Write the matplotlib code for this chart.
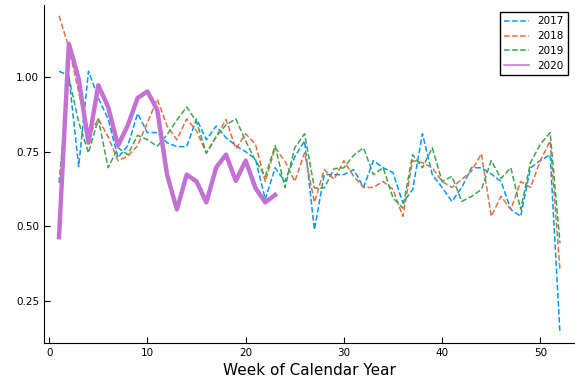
import matplotlib
matplotlib.use("Agg")
import matplotlib.pyplot as plt

weeks = list(range(1, 53))

y2017 = [1.02, 1.005, 0.70, 1.02, 0.93, 0.86, 0.73, 0.77, 0.878, 0.814,
         0.814, 0.78, 0.767, 0.767, 0.86, 0.79, 0.836, 0.797, 0.77, 0.75,
         0.725, 0.59, 0.696, 0.65, 0.733, 0.786, 0.488, 0.673, 0.673, 0.673,
         0.69, 0.63, 0.72, 0.696, 0.68, 0.578, 0.623, 0.81, 0.673, 0.63,
         0.583, 0.63, 0.696, 0.696, 0.675, 0.65, 0.556, 0.533, 0.696, 0.72,
         0.74, 0.14]
y2018 = [1.206, 1.10, 0.95, 0.80, 0.86, 0.80, 0.72, 0.735, 0.77, 0.847,
         0.926, 0.836, 0.79, 0.86, 0.82, 0.745, 0.80, 0.858, 0.76, 0.81,
         0.775, 0.65, 0.763, 0.718, 0.65, 0.746, 0.58, 0.69, 0.657, 0.72,
         0.667, 0.63, 0.63, 0.65, 0.623, 0.533, 0.72, 0.713, 0.696, 0.65,
         0.63, 0.657, 0.685, 0.743, 0.533, 0.60, 0.556, 0.65, 0.63, 0.72,
         0.786, 0.354]
y2019 = [0.645, 1.0, 0.85, 0.746, 0.86, 0.696, 0.763, 0.74, 0.805, 0.79,
         0.768, 0.807, 0.856, 0.90, 0.85, 0.745, 0.80, 0.84, 0.86, 0.786,
         0.72, 0.667, 0.77, 0.63, 0.763, 0.81, 0.628, 0.628, 0.693, 0.696,
         0.738, 0.763, 0.673, 0.696, 0.595, 0.561, 0.74, 0.696, 0.763, 0.65,
         0.667, 0.583, 0.60, 0.623, 0.72, 0.66, 0.696, 0.556, 0.713, 0.775,
         0.814, 0.443]
weeks2020 = list(range(1, 24))
y2020 = [0.463, 1.112, 0.995, 0.78, 0.973, 0.90, 0.77, 0.838, 0.93, 0.952,
         0.89, 0.673, 0.556, 0.673, 0.65, 0.58, 0.697, 0.74, 0.652, 0.72,
         0.628, 0.58, 0.605]

fig = plt.figure(figsize=(5.75, 3.85), dpi=100)
ax = fig.add_axes([0.0765, 0.109, 0.9235, 0.878])

ax.plot(weeks, y2017, color='#009AFA', linestyle='--', linewidth=1.1, label='2017')
ax.plot(weeks, y2018, color='#E36F47', linestyle='--', linewidth=1.1, label='2018')
ax.plot(weeks, y2019, color='#3EA44E', linestyle='--', linewidth=1.1, label='2019')
ax.plot(weeks2020, y2020, color='#C371D2', linewidth=3.2, label='2020')

ax.set_xlim(-0.53, 53.53)
ax.set_ylim(0.108, 1.242)
ax.set_xticks([0, 10, 20, 30, 40, 50])
ax.set_yticks([0.25, 0.50, 0.75, 1.00])
ax.set_yticklabels(['0.25', '0.50', '0.75', '1.00'])
ax.tick_params(direction='in', labelsize=7.5, length=4, width=0.8)
ax.spines['top'].set_visible(False)
ax.spines['right'].set_visible(False)
ax.set_xlabel('Week of Calendar Year', fontsize=11)

leg = ax.legend(loc='upper right', fontsize=7.5, fancybox=False, framealpha=1,
                edgecolor='black', handlelength=2.4, borderaxespad=0.7,
                labelspacing=0.45)
leg.get_frame().set_linewidth(1.0)
# legend handle for 2020 is drawn thin in the original
leg.get_lines()[3].set_linewidth(1.1)

fig.savefig('out.png', dpi=100)
